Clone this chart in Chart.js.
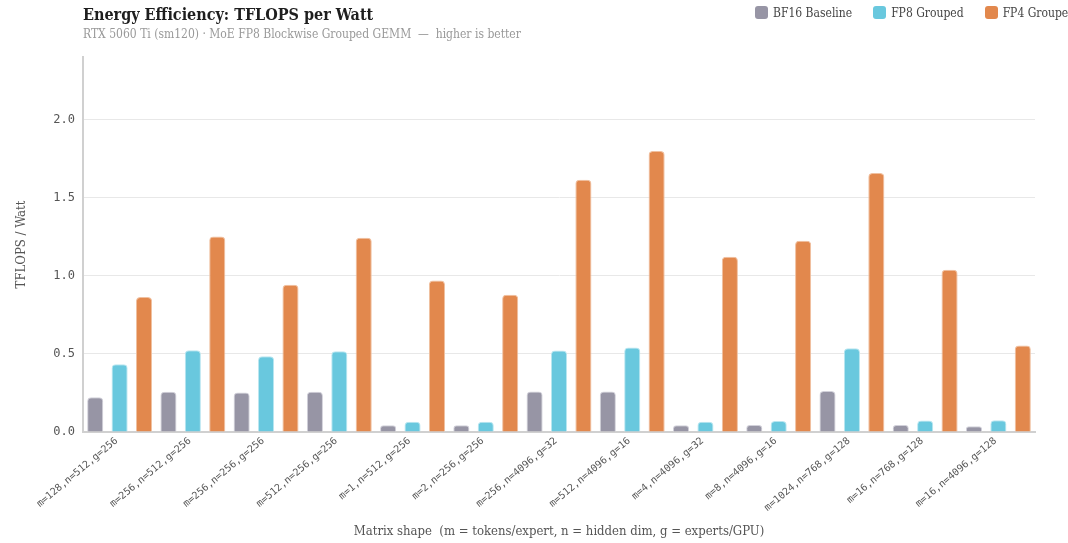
<!DOCTYPE html>
<html>
<head>
<meta charset="utf-8">
<script src="https://cdn.jsdelivr.net/npm/chart.js@4/dist/chart.umd.min.js"></script>
<style>
    html, body { margin: 0; padding: 0; background: #fff; overflow: hidden; }
    body { width: 1068px; height: 543px; position: relative; font-family: "DejaVu Serif Condensed", "DejaVu Serif", serif; }
    #wrap { position: absolute; left: 0; top: 0; width: 1068px; height: 543px; }
    .title { position: absolute; left: 83px; top: 5px; font-size: 16px; font-weight: bold; color: #1e1e1e; white-space: nowrap; }
    .subtitle { position: absolute; left: 83px; top: 27px; font-size: 12px; color: #999; white-space: nowrap; }
    .legend { position: absolute; left: 755px; top: 6px; white-space: nowrap; font-size: 12px; color: #444; }
    .legend span.item { display: inline-block; margin-right: 21px; }
    .legend i { display: inline-block; width: 13px; height: 13px; border-radius: 3px; vertical-align: -2px; margin-right: 5px; }
</style>
</head>
<body>
<div id="wrap"><canvas id="chart"></canvas></div>
<div class="title">Energy Efficiency: TFLOPS per Watt</div>
<div class="subtitle">RTX 5060 Ti (sm120) · MoE FP8 Blockwise Grouped GEMM &nbsp;—&nbsp; higher is better</div>
<div class="legend" id="legend"></div>
<script>
const shapes = [
    "m=128,n=512,g=256", "m=256,n=512,g=256", "m=256,n=256,g=256", "m=512,n=256,g=256",
    "m=1,n=512,g=256", "m=2,n=256,g=256", "m=256,n=4096,g=32", "m=512,n=4096,g=16",
    "m=4,n=4096,g=32", "m=8,n=4096,g=16", "m=1024,n=768,g=128", "m=16,n=768,g=128",
    "m=16,n=4096,g=128"
];
const bf16Baseline = [0.222, 0.257, 0.253, 0.257, 0.043, 0.043, 0.260, 0.260, 0.043, 0.045, 0.262, 0.045, 0.037];
const fp8Grouped = [0.434, 0.524, 0.485, 0.517, 0.066, 0.066, 0.522, 0.541, 0.066, 0.070, 0.536, 0.074, 0.076];
const fp4Grouped = [0.864, 1.252, 0.943, 1.243, 0.969, 0.879, 1.614, 1.799, 1.122, 1.224, 1.658, 1.039, 0.553];
const yTicks = [0, 0.5, 1.0, 1.5, 2.0];

const seriesNames = ["BF16 Baseline", "FP8 Grouped", "FP4 Grouped"];
const seriesColors = ["#9795a5", "#69c8de", "#e2884d"];
const seriesBorders = ["#d2d1da", "#b9e6f0", "#f0c0a0"];

const mono = "'DejaVu Sans Mono', monospace";
const serif = "'DejaVu Serif Condensed', 'DejaVu Serif', serif";

function makeDataset(i, values) {
    return {
        label: seriesNames[i],
        data: values,
        backgroundColor: seriesColors[i],
        borderColor: seriesBorders[i],
        borderWidth: 1,
        borderRadius: 4,
        borderSkipped: "bottom",
        barPercentage: 0.66,
        categoryPercentage: 1.0,
    };
}

// html legend, it runs off the right edge like the original
const legend = document.getElementById("legend");
seriesNames.forEach((name, i) => {
    const item = document.createElement("span");
    item.className = "item";
    item.innerHTML = '<i style="background:' + seriesColors[i] + '"></i>' + name;
    legend.appendChild(item);
});

const config = {
    type: "bar",
    data: {
        labels: shapes,
        datasets: [
            makeDataset(0, bf16Baseline),
            makeDataset(1, fp8Grouped),
            makeDataset(2, fp4Grouped),
        ],
    },
    options: {
        responsive: true,
        maintainAspectRatio: false,
        animation: false,
        layout: { padding: { top: 57, right: 33, left: 0, bottom: 0 } },
        plugins: {
            legend: { display: false },
            tooltip: { enabled: false },
        },
        scales: {
            x: {
                grid: { display: false },
                border: { color: "#d0d0d0", width: 2 },
                afterFit: (scale) => { scale.height = 111; },
                ticks: {
                    font: { family: mono, size: 10 },
                    color: "#555",
                    minRotation: 40,
                    maxRotation: 40,
                    autoSkip: false,
                    padding: -5,
                    labelOffset: -3,
                },
                title: {
                    display: true,
                    text: "Matrix shape  (m = tokens/expert, n = hidden dim, g = experts/GPU)",
                    font: { family: serif, size: 13 },
                    color: "#555",
                    padding: { top: 4, bottom: 4 },
                },
            },
            y: {
                min: 0,
                max: 2.4,
                grid: { color: "#e8e8e8", drawTicks: false },
                border: { color: "#d0d0d0", width: 2 },
                afterFit: (scale) => { scale.width = 83; },
                afterBuildTicks: (scale) => {
                    scale.ticks = yTicks.map((v) => ({ value: v }));
                },
                ticks: {
                    font: { family: mono, size: 12 },
                    color: "#555",
                    padding: 8,
                    callback: (v) => Number(v).toFixed(1),
                },
                title: {
                    display: true,
                    text: "TFLOPS / Watt",
                    font: { family: serif, size: 13 },
                    color: "#555",
                    padding: { top: 14, bottom: 10 },
                },
            },
        },
    },
};

new Chart(document.getElementById("chart"), config);
</script>
</body>
</html>
